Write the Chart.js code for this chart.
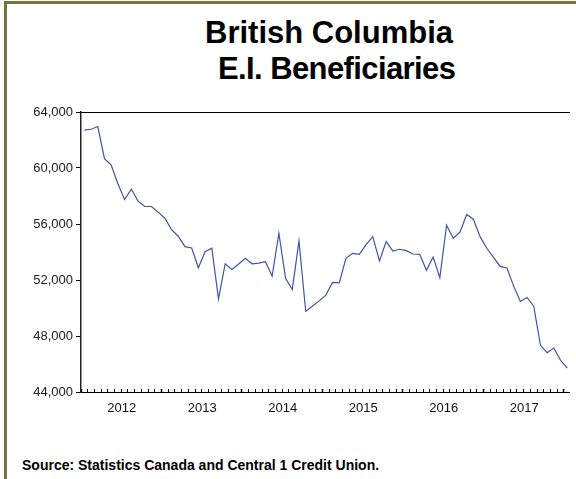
<!DOCTYPE html>
<html>
<head>
<meta charset="utf-8">
<title>British Columbia E.I. Beneficiaries</title>
<script src="https://cdn.jsdelivr.net/npm/chart.js@4"></script>
<style>
  html, body { margin: 0; padding: 0; background: #fff; }
  #page { position: relative; width: 576px; height: 479px; overflow: hidden; background: #fff;
          font-family: "Liberation Sans", Arial, sans-serif; color: #000; }
  #frame { position: absolute; left: 4px; top: 1px; width: 580px; height: 490px;
           border-left: 3px solid #77733c; border-top: 3px solid #77733c; }
  .title { position: absolute; font-weight: bold; font-size: 31px; white-space: pre; line-height: 36px; }
  #box { position: absolute; left: 0; top: 100px; width: 576px; height: 332px; }
  #source { position: absolute; left: 22px; top: 457px; font-weight: bold; font-size: 14px; white-space: pre; }
</style>
</head>
<body>
<div id="page">
  <div id="frame"></div>
  <div class="title" style="left:205px; top:15px;">British Columbia</div>
  <div class="title" style="left:218px; top:51px; letter-spacing:-0.6px;">E.I. Beneficiaries</div>
  <div id="box"><canvas id="eiChart" width="576" height="332"></canvas></div>
  <div id="source">Source: Statistics Canada and Central 1 Credit Union.</div>
</div>
<script>
// monthly, starting Jan 2012
const years = ['2012', '2013', '2014', '2015', '2016', '2017'];
const beneficiaries = [
    62700, 62770, 62960, 60670, 60215, 58875, 57750, 58495, 57635, 57250, 57250, 56845,
    56415, 55600, 55125, 54380, 54285, 52875, 54020, 54265, 50650, 53160, 52760, 53140,
    53550, 53160, 53210, 53305, 52280, 55340, 52115, 51325, 54790, 49770, 50130, 50510,
    50920, 51830, 51800, 53550, 53905, 53835, 54525, 55095, 53355, 54740, 54070, 54195,
    54095, 53855, 53835, 52690, 53640, 52160, 55915, 54980, 55410, 56675, 56345, 55095,
    54265, 53620, 52975, 52855, 51565, 50465, 50755, 50130, 47335, 46810, 47140, 46260,
    45705
];
const yTicks = [44000, 48000, 52000, 56000, 60000, 64000];

Chart.defaults.font.family = '"Liberation Sans", Arial, sans-serif';
Chart.defaults.font.size = 13;
Chart.defaults.color = '#222';

let points = beneficiaries.map((v, i) => ({ x: i, y: v }));

let ctx = document.getElementById('eiChart').getContext('2d');
let eiChart = new Chart(ctx, {
    type: 'line',
    data: {
        datasets: [{
            label: 'E.I. Beneficiaries',
            data: points,
            borderColor: '#3d55a8',
            borderWidth: 1.2,
            pointRadius: 0,
            tension: 0,
            fill: false
        }]
    },
    options: {
        responsive: false,
        animation: false,
        devicePixelRatio: 1,
        layout: { padding: { top: 12, right: 0, bottom: 0, left: 0 } },
        plugins: {
            legend: { display: false },
            tooltip: { enabled: false }
        },
        scales: {
            x: {
                type: 'linear',
                position: 'bottom',
                min: -0.5,
                max: 72.3,
                afterBuildTicks: function (scale) {
                    let t = [];
                    for (let v = -0.5; v <= scale.max; v += 1) t.push({ value: v });
                    scale.ticks = t;
                },
                afterFit: function (scale) { scale.height = 40; },
                ticks: {
                    autoSkip: false,
                    maxRotation: 0,
                    padding: 12,
                    labelOffset: 40.8,
                    color: '#111',
                    callback: function (value) {
                        let k = value + 0.5;
                        if (k % 12 === 0 && years[k / 12]) return years[k / 12];
                        return '';
                    }
                },
                grid: {
                    drawOnChartArea: false,
                    tickLength: -3,
                    tickColor: '#000',
                    tickWidth: function (c) {
                        return c.tick && (c.tick.value + 0.5) % 12 === 0 ? 1.5 : 1;
                    }
                },
                border: { color: '#000', width: 1 }
            },
            x2: {
                type: 'linear',
                position: 'top',
                min: -0.5,
                max: 72.3,
                afterFit: function (scale) { scale.height = 0; },
                ticks: { display: false },
                grid: { drawOnChartArea: false, drawTicks: false },
                border: { color: '#000', width: 1 }
            },
            y: {
                min: 44000,
                max: 64000,
                afterFit: function (scale) { scale.width = 81; },
                afterBuildTicks: function (scale) {
                    scale.ticks = yTicks.map(v => ({ value: v }));
                },
                ticks: {
                    padding: 3,
                    color: '#222',
                    callback: function (value) { return value.toLocaleString('en-US'); }
                },
                grid: { drawOnChartArea: false, tickLength: 5, tickColor: '#000' },
                border: { color: '#222', width: 1.5 }
            }
        }
    }
});
</script>
</body>
</html>
